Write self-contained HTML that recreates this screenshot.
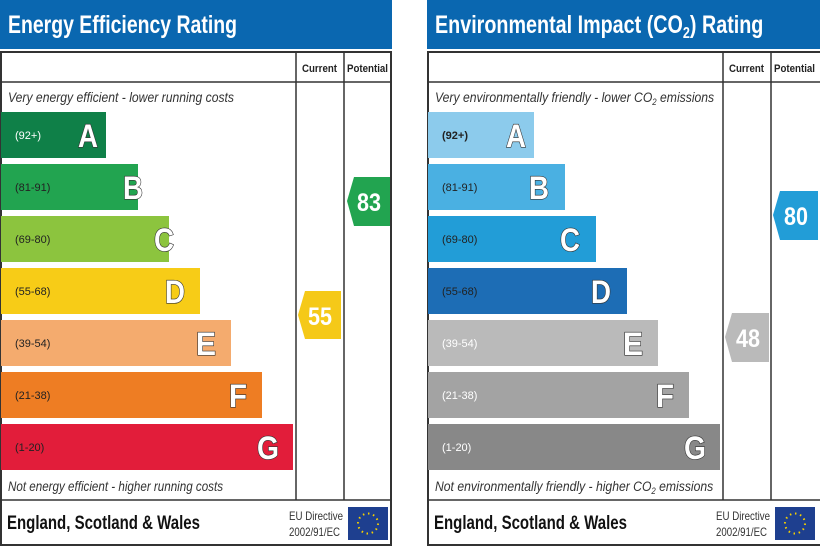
<!DOCTYPE html>
<html><head><style>
body{margin:0;background:#fff;}
svg{display:block;font-family:"Liberation Sans",sans-serif;}
.t{font-size:11px;font-weight:bold;fill:#222;}
.r{font-size:11px;fill:#222;}
.it{font-size:14px;font-style:italic;fill:#333;}
.L{font-size:32px;font-weight:bold;fill:#fff;stroke:#333;stroke-width:1.3;paint-order:stroke;}
.n{font-size:25px;font-weight:bold;fill:#fff;}
.h{font-size:25px;font-weight:bold;fill:#fff;}
.f{font-size:19px;font-weight:bold;fill:#111;}
.eu{font-size:12px;fill:#333;}
</style></head><body>
<svg width="820" height="547" viewBox="0 0 820 547">
<rect width="820" height="547" fill="#fff"/>
<rect x="0" y="0" width="392" height="49" fill="#0a67b0"/>
<text class="h" x="8" y="33" textLength="229" lengthAdjust="spacingAndGlyphs">Energy Efficiency Rating</text>
<rect x="1" y="52" width="390" height="493" fill="none" stroke="#333" stroke-width="2"/>
<line x1="0" y1="82" x2="392" y2="82" stroke="#333" stroke-width="1.5"/>
<line x1="0" y1="500" x2="392" y2="500" stroke="#333" stroke-width="1.5"/>
<line x1="296" y1="52" x2="296" y2="500" stroke="#333" stroke-width="1.5"/>
<line x1="344" y1="52" x2="344" y2="500" stroke="#333" stroke-width="1.5"/>
<text class="t" x="302" y="72" textLength="35" lengthAdjust="spacingAndGlyphs">Current</text>
<text class="t" x="347" y="72" textLength="41" lengthAdjust="spacingAndGlyphs">Potential</text>
<text class="it" x="8" y="102" textLength="226" lengthAdjust="spacingAndGlyphs">Very energy efficient - lower running costs</text>
<rect x="1" y="112" width="105" height="46" fill="#0f8048"/>
<rect x="1" y="164" width="137" height="46" fill="#22a450"/>
<rect x="1" y="216" width="168" height="46" fill="#8cc43e"/>
<rect x="1" y="268" width="199" height="46" fill="#f7cc17"/>
<rect x="1" y="320" width="230" height="46" fill="#f4ab6e"/>
<rect x="1" y="372" width="261" height="46" fill="#ee7d23"/>
<rect x="1" y="424" width="292" height="46" fill="#e21d3a"/>
<text class="r" x="15" y="139" style="fill:#fff">(92+)</text>
<text class="r" x="15" y="191">(81-91)</text>
<text class="r" x="15" y="243">(69-80)</text>
<text class="r" x="15" y="295">(55-68)</text>
<text class="r" x="15" y="347">(39-54)</text>
<text class="r" x="15" y="399">(21-38)</text>
<text class="r" x="15" y="451">(1-20)</text>
<text class="L" x="78" y="147" textLength="20" lengthAdjust="spacingAndGlyphs">A</text>
<text class="L" x="123" y="199" textLength="20" lengthAdjust="spacingAndGlyphs">B</text>
<text class="L" x="154" y="251" textLength="20" lengthAdjust="spacingAndGlyphs">C</text>
<text class="L" x="165" y="303" textLength="20" lengthAdjust="spacingAndGlyphs">D</text>
<text class="L" x="196" y="355" textLength="20" lengthAdjust="spacingAndGlyphs">E</text>
<text class="L" x="229" y="407" textLength="18" lengthAdjust="spacingAndGlyphs">F</text>
<text class="L" x="257" y="459" textLength="22" lengthAdjust="spacingAndGlyphs">G</text>
<text class="it" x="8" y="491" textLength="215" lengthAdjust="spacingAndGlyphs">Not energy efficient - higher running costs</text>
<polygon points="298,315 305,291 341,291 341,339 305,339" fill="#f5c918"/>
<text class="n" x="308" y="325" textLength="24" lengthAdjust="spacingAndGlyphs">55</text>
<polygon points="347,201 354,177 390,177 390,226 354,226" fill="#22a450"/>
<text class="n" x="357" y="211" textLength="24" lengthAdjust="spacingAndGlyphs">83</text>
<text class="f" x="7" y="529" textLength="193" lengthAdjust="spacingAndGlyphs">England, Scotland &amp; Wales</text>
<text class="eu" x="289" y="520" textLength="54" lengthAdjust="spacingAndGlyphs">EU Directive</text>
<text class="eu" x="289" y="536" textLength="51" lengthAdjust="spacingAndGlyphs">2002/91/EC</text>
<rect x="348" y="507" width="40" height="33" fill="#1e3f8f"/>
<circle cx="368" cy="523.5" r="10" fill="none" stroke="#f5d000" stroke-width="2" stroke-dasharray="1.5 3.7"/>
<rect x="427" y="0" width="393" height="49" fill="#0a67b0"/>
<g transform="translate(435,0) scale(0.79,1)">
<text class="h" x="0" y="33">Environmental Impact (CO<tspan font-size="16" dy="5">2</tspan><tspan dy="-5">) Rating</tspan></text>
</g>
<rect x="428" y="52" width="394" height="493" fill="none" stroke="#333" stroke-width="2"/>
<line x1="427" y1="82" x2="820" y2="82" stroke="#333" stroke-width="1.5"/>
<line x1="427" y1="500" x2="820" y2="500" stroke="#333" stroke-width="1.5"/>
<line x1="723" y1="52" x2="723" y2="500" stroke="#333" stroke-width="1.5"/>
<line x1="771" y1="52" x2="771" y2="500" stroke="#333" stroke-width="1.5"/>
<text class="t" x="729" y="72" textLength="35" lengthAdjust="spacingAndGlyphs">Current</text>
<text class="t" x="774" y="72" textLength="41" lengthAdjust="spacingAndGlyphs">Potential</text>
<g transform="translate(435,0) scale(0.87,1)">
<text class="it" x="0" y="102">Very environmentally friendly - lower CO<tspan font-size="9" dy="3">2</tspan><tspan dy="-3"> emissions</tspan></text>
<text class="it" x="0" y="491">Not environmentally friendly - higher CO<tspan font-size="9" dy="3">2</tspan><tspan dy="-3"> emissions</tspan></text>
</g>
<rect x="428" y="112" width="106" height="46" fill="#8ccbec"/>
<rect x="428" y="164" width="137" height="46" fill="#4ab0e2"/>
<rect x="428" y="216" width="168" height="46" fill="#229dd7"/>
<rect x="428" y="268" width="199" height="46" fill="#1d6db5"/>
<rect x="428" y="320" width="230" height="46" fill="#bababa"/>
<rect x="428" y="372" width="261" height="46" fill="#a3a3a3"/>
<rect x="428" y="424" width="292" height="46" fill="#888"/>
<text class="r" x="442" y="139" style="font-weight:bold">(92+)</text>
<text class="r" x="442" y="191">(81-91)</text>
<text class="r" x="442" y="243">(69-80)</text>
<text class="r" x="442" y="295">(55-68)</text>
<text class="r" x="442" y="347" style="fill:#fff">(39-54)</text>
<text class="r" x="442" y="399" style="fill:#fff">(21-38)</text>
<text class="r" x="442" y="451" style="fill:#fff">(1-20)</text>
<text class="L" x="506" y="147" textLength="20" lengthAdjust="spacingAndGlyphs">A</text>
<text class="L" x="529" y="199" textLength="20" lengthAdjust="spacingAndGlyphs">B</text>
<text class="L" x="560" y="251" textLength="20" lengthAdjust="spacingAndGlyphs">C</text>
<text class="L" x="591" y="303" textLength="20" lengthAdjust="spacingAndGlyphs">D</text>
<text class="L" x="623" y="355" textLength="20" lengthAdjust="spacingAndGlyphs">E</text>
<text class="L" x="656" y="407" textLength="18" lengthAdjust="spacingAndGlyphs">F</text>
<text class="L" x="684" y="459" textLength="22" lengthAdjust="spacingAndGlyphs">G</text>
<polygon points="725,337 732,313 769,313 769,362 732,362" fill="#bababa"/>
<text class="n" x="736" y="347" textLength="24" lengthAdjust="spacingAndGlyphs">48</text>
<polygon points="773,215 780,191 818,191 818,240 780,240" fill="#229dd7"/>
<text class="n" x="784" y="225" textLength="24" lengthAdjust="spacingAndGlyphs">80</text>
<text class="f" x="434" y="529" textLength="193" lengthAdjust="spacingAndGlyphs">England, Scotland &amp; Wales</text>
<text class="eu" x="716" y="520" textLength="54" lengthAdjust="spacingAndGlyphs">EU Directive</text>
<text class="eu" x="716" y="536" textLength="51" lengthAdjust="spacingAndGlyphs">2002/91/EC</text>
<rect x="775" y="507" width="40" height="33" fill="#1e3f8f"/>
<circle cx="795" cy="523.5" r="10" fill="none" stroke="#f5d000" stroke-width="2" stroke-dasharray="1.5 3.7"/>
</svg>
</body></html>
